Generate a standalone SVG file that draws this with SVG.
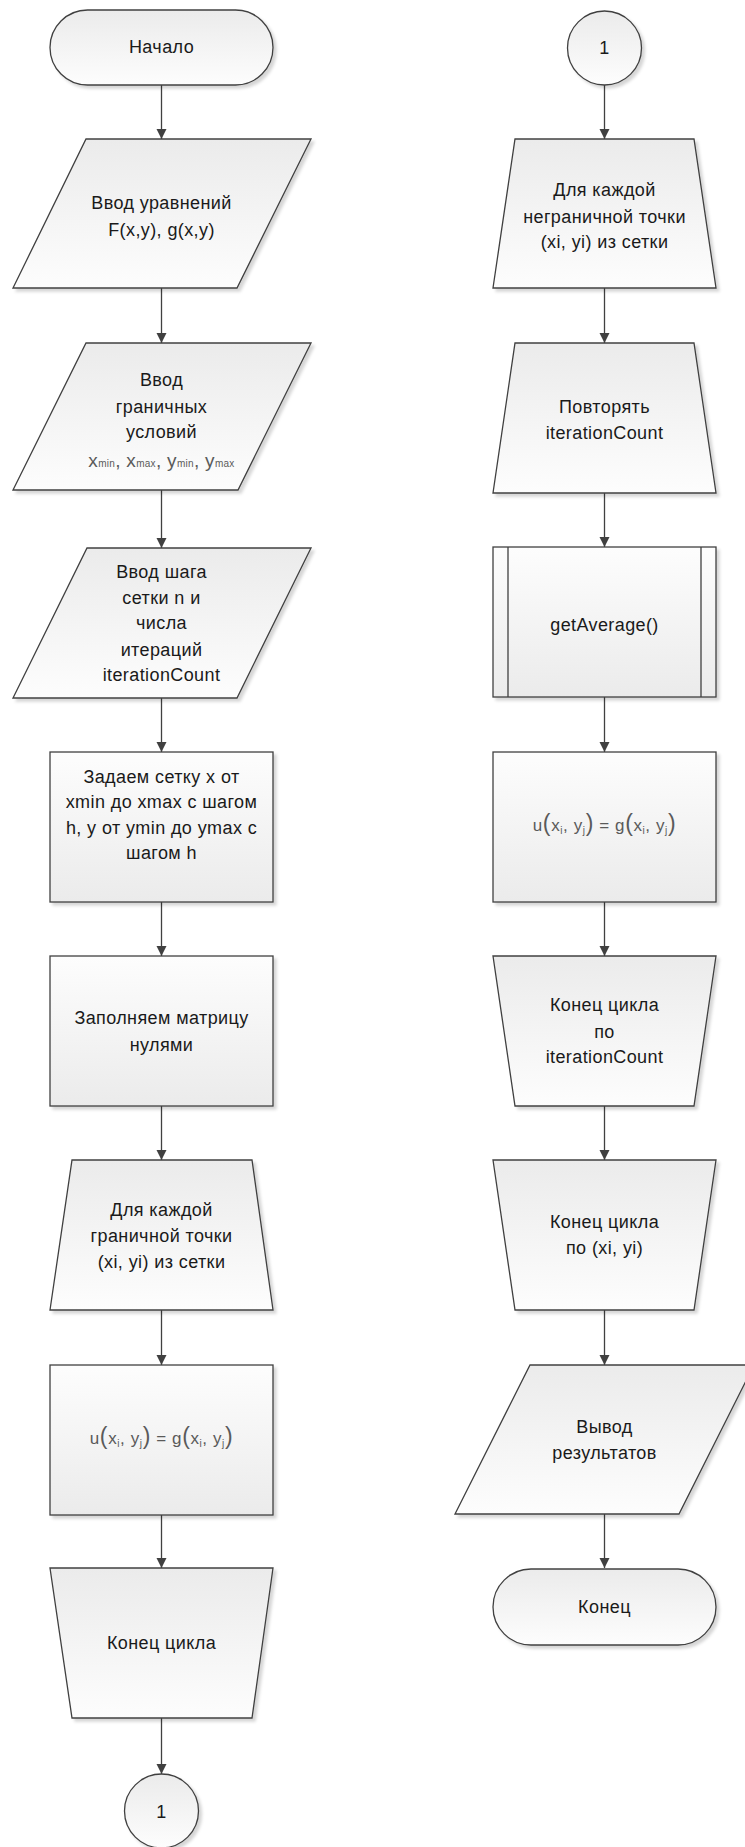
<svg xmlns="http://www.w3.org/2000/svg" width="745" height="1847" viewBox="0 0 745 1847">
<defs>
<linearGradient id="gDown" x1="0" y1="0" x2="0" y2="1"><stop offset="0" stop-color="#ebebeb"/><stop offset="1" stop-color="#fdfdfd"/></linearGradient>
<linearGradient id="gUp" x1="0" y1="0" x2="0" y2="1"><stop offset="0" stop-color="#fdfdfd"/><stop offset="1" stop-color="#ebebeb"/></linearGradient>
<filter id="sh" x="-10%" y="-10%" width="125%" height="125%"><feDropShadow dx="3" dy="3" stdDeviation="1.5" flood-color="#000" flood-opacity="0.16"/></filter>
<marker id="ar" markerUnits="userSpaceOnUse" markerWidth="12" markerHeight="12" refX="10" refY="5" orient="auto"><path d="M0,0 L10,5 L0,10 z" fill="#404040"/></marker>
<style>
.d{stroke:#404040;stroke-width:1.3;fill:url(#gDown);filter:url(#sh)}
.u{stroke:#404040;stroke-width:1.3;fill:url(#gUp);filter:url(#sh)}
.ln{stroke:#404040;stroke-width:1.3;fill:none}
.c{stroke:#404040;stroke-width:1.3;fill:none;marker-end:url(#ar)}
text{font-family:"Liberation Sans",Arial,sans-serif;font-size:18px;letter-spacing:0.4px;fill:#1a1a1a;text-anchor:middle}
.f{font-size:17px;letter-spacing:0.6px;fill:#5a5a5a}
.s{font-size:10px}
.p{font-size:23px}
.m{font-size:19px;letter-spacing:0.3px;fill:#5a5a5a}
</style>
</defs>
<g id="connectors">
<line class="c" x1="161.5" y1="85" x2="161.5" y2="139"/>
<line class="c" x1="161.5" y1="288" x2="161.5" y2="343"/>
<line class="c" x1="161.5" y1="490" x2="161.5" y2="548"/>
<line class="c" x1="161.5" y1="698" x2="161.5" y2="752"/>
<line class="c" x1="161.5" y1="902" x2="161.5" y2="956"/>
<line class="c" x1="161.5" y1="1106" x2="161.5" y2="1160"/>
<line class="c" x1="161.5" y1="1310" x2="161.5" y2="1365"/>
<line class="c" x1="161.5" y1="1515" x2="161.5" y2="1568"/>
<line class="c" x1="161.5" y1="1718" x2="161.5" y2="1774"/>
<line class="c" x1="604.5" y1="85" x2="604.5" y2="139"/>
<line class="c" x1="604.5" y1="288" x2="604.5" y2="343"/>
<line class="c" x1="604.5" y1="493" x2="604.5" y2="547"/>
<line class="c" x1="604.5" y1="697" x2="604.5" y2="752"/>
<line class="c" x1="604.5" y1="902" x2="604.5" y2="956"/>
<line class="c" x1="604.5" y1="1106" x2="604.5" y2="1160"/>
<line class="c" x1="604.5" y1="1310" x2="604.5" y2="1365"/>
<line class="c" x1="604.5" y1="1514" x2="604.5" y2="1568"/>
</g>
<g id="start">
<rect class="d" x="50" y="10" width="223" height="75" rx="37.5" ry="37.5"/>
<text x="161.5" y="53">Начало</text>
</g>
<g id="input-equations">
<polygon class="d" points="86,139 311,139 237,288 13,288"/>
<text x="161.5" y="209">Ввод уравнений</text>
<text x="161.5" y="236">F(x,y), g(x,y)</text>
</g>
<g id="input-boundary">
<polygon class="d" points="86,343 311,343 238,490 13,490"/>
<text x="161.5" y="386">Ввод</text>
<text x="161.5" y="413">граничных</text>
<text x="161.5" y="438">условий</text>
<text class="m" x="161.5" y="467">x<tspan class="s">min</tspan>, x<tspan class="s">max</tspan>, y<tspan class="s">min</tspan>, y<tspan class="s">max</tspan></text>
</g>
<g id="input-step">
<polygon class="d" points="87,548 311,548 237,698 13,698"/>
<text x="161.5" y="578">Ввод шага</text>
<text x="161.5" y="604">сетки n и</text>
<text x="161.5" y="629">числа</text>
<text x="161.5" y="656">итераций</text>
<text x="161.5" y="681">iterationCount</text>
</g>
<g id="set-grid">
<rect class="u" x="50" y="752" width="223" height="150"/>
<text x="161.5" y="783">Задаем сетку х от</text>
<text x="161.5" y="808">xmin до xmax с шагом</text>
<text x="161.5" y="834">h, y от ymin до ymax c</text>
<text x="161.5" y="859">шагом h</text>
</g>
<g id="fill-zeros">
<rect class="u" x="50" y="956" width="223" height="150"/>
<text x="161.5" y="1024">Заполняем матрицу</text>
<text x="161.5" y="1051">нулями</text>
</g>
<g id="loop-boundary">
<polygon class="d" points="72,1160 252,1160 273,1310 50,1310"/>
<text x="161.5" y="1216">Для каждой</text>
<text x="161.5" y="1242">граничной точки</text>
<text x="161.5" y="1268">(xi, yi) из сетки</text>
</g>
<g id="assign-boundary">
<rect class="u" x="50" y="1365" width="223" height="150"/>
<text class="f" x="161.5" y="1444">u<tspan class="p">(</tspan>x<tspan class="s" dy="3">i</tspan><tspan dy="-3">, y</tspan><tspan class="s" dy="3">j</tspan><tspan class="p" dy="-3">)</tspan> = g<tspan class="p">(</tspan>x<tspan class="s" dy="3">i</tspan><tspan dy="-3">, y</tspan><tspan class="s" dy="3">j</tspan><tspan class="p" dy="-3">)</tspan></text>
</g>
<g id="loop-boundary-end">
<polygon class="d" points="50,1568 273,1568 252,1718 72,1718"/>
<text x="161.5" y="1649">Конец цикла</text>
</g>
<g id="connector-out">
<circle class="d" cx="161.5" cy="1811" r="37"/>
<text x="161.5" y="1818">1</text>
</g>
<g id="connector-in">
<circle class="d" cx="604.5" cy="48" r="37"/>
<text x="604.5" y="54">1</text>
</g>
<g id="loop-inner">
<polygon class="d" points="515,139 694,139 716,288 493,288"/>
<text x="604.5" y="196">Для каждой</text>
<text x="604.5" y="223">неграничной точки</text>
<text x="604.5" y="248">(xi, yi) из сетки</text>
</g>
<g id="loop-iter">
<polygon class="d" points="515,343 694,343 716,493 493,493"/>
<text x="604.5" y="413">Повторять</text>
<text x="604.5" y="439">iterationCount</text>
</g>
<g id="get-average">
<rect class="u" x="493" y="547" width="223" height="150"/>
<line class="ln" x1="508" y1="547" x2="508" y2="697"/>
<line class="ln" x1="701" y1="547" x2="701" y2="697"/>
<text x="604.5" y="631">getAverage()</text>
</g>
<g id="assign-inner">
<rect class="u" x="493" y="752" width="223" height="150"/>
<text class="f" x="604.5" y="831">u<tspan class="p">(</tspan>x<tspan class="s" dy="3">i</tspan><tspan dy="-3">, y</tspan><tspan class="s" dy="3">j</tspan><tspan class="p" dy="-3">)</tspan> = g<tspan class="p">(</tspan>x<tspan class="s" dy="3">i</tspan><tspan dy="-3">, y</tspan><tspan class="s" dy="3">j</tspan><tspan class="p" dy="-3">)</tspan></text>
</g>
<g id="loop-iter-end">
<polygon class="d" points="493,956 716,956 694,1106 515,1106"/>
<text x="604.5" y="1011">Конец цикла</text>
<text x="604.5" y="1038">по</text>
<text x="604.5" y="1063">iterationCount</text>
</g>
<g id="loop-inner-end">
<polygon class="d" points="493,1160 716,1160 694,1310 515,1310"/>
<text x="604.5" y="1228">Конец цикла</text>
<text x="604.5" y="1254">по (xi, yi)</text>
</g>
<g id="output">
<polygon class="d" points="530,1365 754,1365 679,1514 455,1514"/>
<text x="604.5" y="1433">Вывод</text>
<text x="604.5" y="1459">результатов</text>
</g>
<g id="end">
<rect class="d" x="493" y="1569" width="223" height="76" rx="38" ry="38"/>
<text x="604.5" y="1613">Конец</text>
</g>
</svg>
